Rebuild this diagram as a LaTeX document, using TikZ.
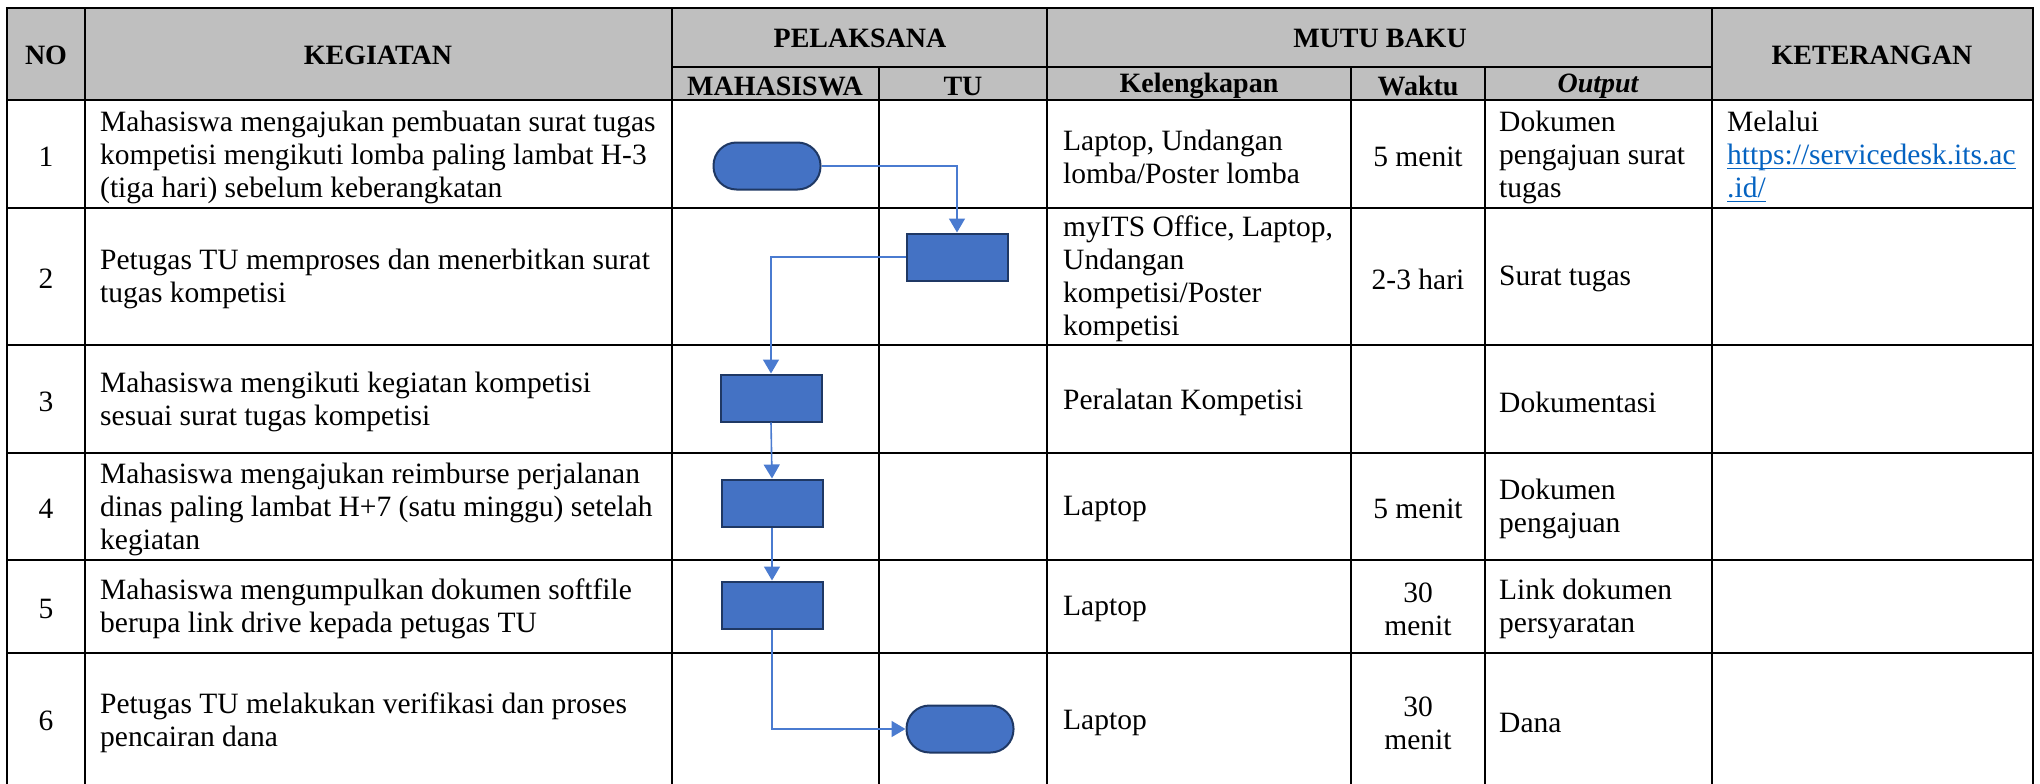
\documentclass[tikz,border=0pt]{standalone}
\usepackage{fontspec}
\setmainfont{Liberation Serif}
\newcommand\myul[1]{\setbox0=\hbox{#1}\rlap{\rule[-4.5pt]{\wd0}{1.8pt}}\box0}
\usetikzlibrary{arrows.meta}
\definecolor{hdrgray}{HTML}{BFBFBF}
\definecolor{shapefill}{HTML}{4472C4}
\definecolor{shapeedge}{HTML}{1F3864}
\definecolor{flowline}{HTML}{4A7BD0}
\definecolor{linkblue}{HTML}{0563C1}
\tikzset{
  tbl/.style={line width=2.3pt, black},
  thin tbl/.style={line width=1.4pt, black},
  body/.style={font=\fontsize{29.5}{33}\selectfont, inner sep=0pt, yshift=-3pt},
  lcell/.style={body, align=left, anchor=west},
  ccell/.style={body, align=center, anchor=center},
  hdr/.style={font=\fontsize{28}{32}\selectfont\bfseries, inner sep=0pt, anchor=center},
  procbox/.style={draw=shapeedge, fill=shapefill, line width=2pt, minimum width=101pt, minimum height=47pt, inner sep=0pt},
  termbox/.style={procbox, rounded corners=23pt, minimum width=107pt},
  flow/.style={draw=flowline, line width=1.6pt, -{Triangle[width=16pt,length=14pt]}}
}
\begin{document}
\begin{tikzpicture}[x=1pt,y=-1pt]
\useasboundingbox (0,0) rectangle (2040,784);
% header background
\fill[hdrgray] (7,8) rectangle (2033,100);
% horizontal lines
\draw[tbl] (5.85,8) -- (2034.15,8);
\draw[thin tbl] (672,67) -- (1712,67);
\foreach \yy in {100,208,345,453,560,653}{
  \draw[tbl] (7,\yy) -- (2033,\yy);
}
% vertical lines
\foreach \xx in {7,85,672,1047,1712,2033}{
  \draw[tbl] (\xx,8) -- (\xx,784);
}
\foreach \xx in {879,1351,1485}{
  \draw[thin tbl] (\xx,67) -- (\xx,100);
  \draw[tbl] (\xx,100) -- (\xx,784);
}
% header texts
\node[hdr] (hno) at (46,55) {NO};
\node[hdr] (hkeg) at (378,55) {KEGIATAN};
\node[hdr] (hpel) at (860,38) {PELAKSANA};
\node[hdr] (hmhs) at (775,86) {MAHASISWA};
\node[hdr] (htu) at (963,86) {TU};
\node[hdr] (hmutu) at (1380,38) {MUTU BAKU};
\node[hdr] (hkel) at (1199,86) {Kelengkapan};
\node[hdr] (hwak) at (1418,86) {Waktu};
\node[hdr] (hout) at (1598,86) {\itshape Output};
\node[hdr] (hket) at (1872,55) {KETERANGAN};
% row 1
\node[ccell] (no1) at (46,154) {1};
\node[lcell] (kg1) at (100,154) {Mahasiswa mengajukan pembuatan surat tugas\\kompetisi mengikuti lomba paling lambat H-3\\(tiga hari) sebelum keberangkatan};
\node[lcell] (kl1) at (1063,154) {Laptop, Undangan\\lomba/Poster lomba};
\node[ccell] (wk1) at (1418,154) {5 menit};
\node[lcell] (ou1) at (1499,154) {Dokumen\\pengajuan surat\\tugas};
\node[lcell] (kt1) at (1727,154) {Melalui\\{\color{linkblue}\myul{https://servicedesk.its.ac}}\\{\color{linkblue}\myul{.id/}}};
% row 2
\node[ccell] (no2) at (46,276) {2};
\node[lcell] (kg2) at (100,276) {Petugas TU memproses dan menerbitkan surat\\tugas kompetisi};
\node[lcell] (kl2) at (1063,276) {myITS Office, Laptop,\\Undangan\\kompetisi/Poster\\kompetisi};
\node[ccell] (wk2) at (1418,276) {2-3 hari};
\node[lcell] (ou2) at (1499,276) {Surat tugas};
% row 3
\node[ccell] (no3) at (46,399) {3};
\node[lcell] (kg3) at (100,399) {Mahasiswa mengikuti kegiatan kompetisi\\sesuai surat tugas kompetisi};
\node[lcell] (kl3) at (1063,399) {Peralatan Kompetisi};
\node[lcell] (ou3) at (1499,399) {Dokumentasi};
% row 4
\node[ccell] (no4) at (46,506) {4};
\node[lcell] (kg4) at (100,506) {Mahasiswa mengajukan reimburse perjalanan\\dinas paling lambat H+7 (satu minggu) setelah\\kegiatan};
\node[lcell] (kl4) at (1063,506) {Laptop};
\node[ccell] (wk4) at (1418,506) {5 menit};
\node[lcell] (ou4) at (1499,506) {Dokumen\\pengajuan};
% row 5
\node[ccell] (no5) at (46,606) {5};
\node[lcell] (kg5) at (100,606) {Mahasiswa mengumpulkan dokumen softfile\\berupa link drive kepada petugas TU};
\node[lcell] (kl5) at (1063,606) {Laptop};
\node[ccell] (wk5) at (1418,606) {30\\menit};
\node[lcell] (ou5) at (1499,606) {Link dokumen\\persyaratan};
% row 6
\node[ccell] (no6) at (46,718) {6};
\node[lcell] (kg6) at (100,720) {Petugas TU melakukan verifikasi dan proses\\pencairan dana};
\node[lcell] (kl6) at (1063,720) {Laptop};
\node[ccell] (wk6) at (1418,720) {30\\menit};
\node[lcell] (ou6) at (1499,720) {Dana};
% flowchart shapes
\node[termbox] (t1) at (767,166) {};
\node[procbox] (b2) at (957,257) {};
\node[procbox] (b3) at (771,398) {};
\node[procbox] (b4) at (772,503) {};
\node[procbox] (b5) at (772,605) {};
\node[termbox] (t2) at (960,729) {};
% connectors
\draw[flow] (t1.east) -| (b2.north);
\draw[flow] (b2.west) -| (b3.north);
\draw[flow] (b3.south) -- (b4.north);
\draw[flow] (b4.south) -- (b5.north);
\draw[flow] (b5.south) |- (t2.west);
\end{tikzpicture}
\end{document}
